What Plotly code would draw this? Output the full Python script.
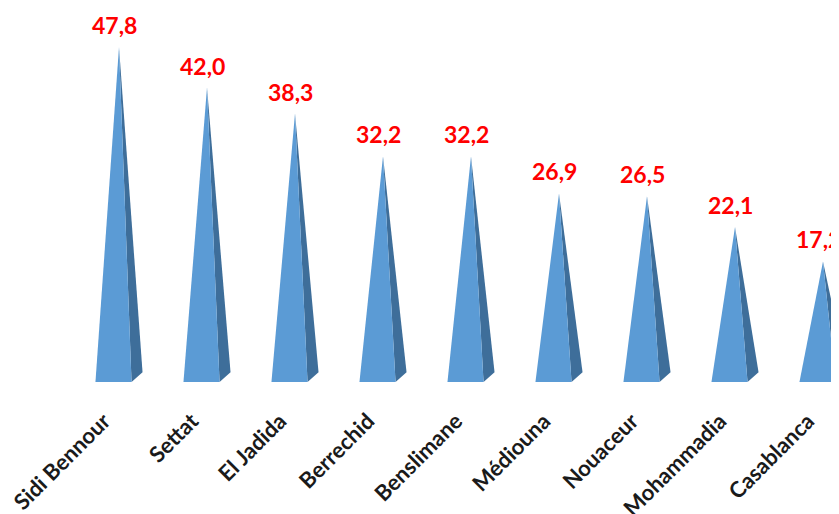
import plotly.graph_objects as go

categories = ["Sidi Bennour", "Settat", "El Jadida", "Berrechid", "Benslimane",
              "Médiouna", "Nouaceur", "Mohammadia", "Casablanca"]
values = [47.8, 42.0, 38.3, 32.2, 32.2, 26.9, 26.5, 22.1, 17.2]
value_labels = ["47,8", "42,0", "38,3", "32,2", "32,2", "26,9", "26,5", "22,1", "17,2"]

FRONT = "#5b9bd5"
SIDE = "#3e6e9a"
HALF_W = 0.205
DEPTH_X = 0.125
DEPTH_Y = 1.4

fig = go.Figure()
for i, v in enumerate(values):
    fl = i - DEPTH_X / 2 - HALF_W
    fr = i - DEPTH_X / 2 + HALF_W
    fig.add_trace(go.Scatter(
        x=[fr, fr + DEPTH_X, i, fr], y=[0, DEPTH_Y, v, 0],
        mode="lines", fill="toself", fillcolor=SIDE, line=dict(width=0),
        hoverinfo="skip", showlegend=False))
    fig.add_trace(go.Scatter(
        x=[fl, fr, i, fl], y=[0, 0, v, 0],
        mode="lines", fill="toself", fillcolor=FRONT, line=dict(width=0),
        hoverinfo="skip", showlegend=False))
    fig.add_annotation(x=i, y=v, text=value_labels[i], showarrow=False,
                       yanchor="bottom", yshift=6, xshift=-5,
                       font=dict(family="Lato", size=23, color="#ff0000", weight="bold"))

# page has an 8px body margin; figure sized so it ends at the window edge
fig.update_xaxes(range=[-111 / 88, 720 / 88], tickmode="array",
                 tickvals=list(range(len(categories))), ticktext=categories,
                 tickangle=-45, showgrid=False, zeroline=False, showline=False,
                 ticks="", ticklabelstandoff=21, ticklabelshift=-15,
                 ticklabeloverflow="allow",
                 tickfont=dict(family="Lato", size=22, color="#1a1a1a", weight="bold"))
fig.update_yaxes(range=[0, 374 / 7.01], visible=False, showgrid=False, zeroline=False)
fig.update_layout(width=831, height=506, margin=dict(l=0, r=0, t=0, b=132, autoexpand=False),
                  plot_bgcolor="white", paper_bgcolor="white")
fig.write_html("out.html")
